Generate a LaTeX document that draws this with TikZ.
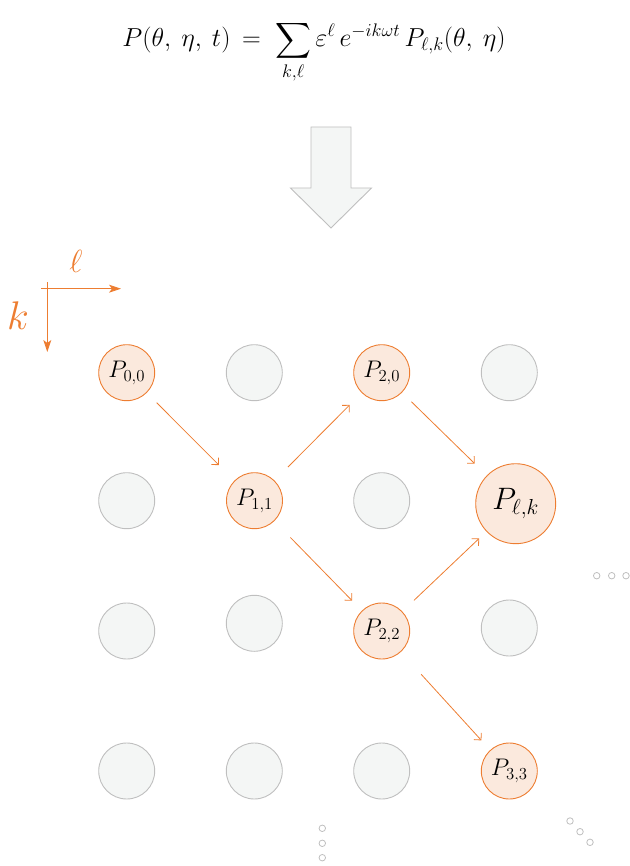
\RequirePackage{fix-cm}
\documentclass[tikz,border=0pt]{standalone}
\usepackage{exscale}
\usetikzlibrary{arrows.meta}
\definecolor{orng}{HTML}{ED7D31}
\definecolor{orngfill}{HTML}{FBE9DD}
\definecolor{gfill}{HTML}{F4F6F5}
\definecolor{gline}{HTML}{BFBFBF}
\begin{document}
\begin{tikzpicture}[x=1pt,y=-1pt,
  onode/.style={circle,draw=orng,fill=orngfill,line width=0.9pt,minimum size=56pt,inner sep=0pt,font=\fontsize{24}{26}\selectfont},
  gnode/.style={circle,draw=gline,fill=gfill,line width=0.9pt,minimum size=56pt,inner sep=0pt},
  dotnode/.style={circle,draw=gline,line width=0.8pt,minimum size=6.5pt,inner sep=0pt},
  conn/.style={draw=orng,line width=0.8pt,-{Straight Barb[length=5pt,width=10pt]}},
  axis/.style={draw=orng,line width=0.9pt,-{Stealth[length=12pt,width=8pt,inset=3pt]}}]
\useasboundingbox (0,0) rectangle (629,866);
% equation
\node[anchor=base,inner sep=0pt] (eq) at (314,47) {\fontsize{26}{29}\selectfont $\displaystyle P(\theta,\:\eta,\:t)\,=\;\sum_{k,\ell}\varepsilon^{\ell}\,e^{-ik\omega t}\,P_{\ell,k}(\theta,\:\eta)$};
% big arrow
\draw[draw=gline,fill=gfill,line width=0.9pt,line join=miter] (311,127) -- (351,127) -- (351,188) -- (371.5,188) -- (331,228) -- (290.5,188) -- (311,188) -- cycle;
% axes
\coordinate (ax0) at (41,288.7);
\coordinate (ax1) at (121,288.7);
\coordinate (ay0) at (47.3,282);
\coordinate (ay1) at (47.3,352);
\draw[axis] (ax0) -- (ax1);
\draw[axis] (ay0) -- (ay1);
\node[text=orng,font=\fontsize{32}{34}\selectfont] (lell) at (76,261) {$\ell$};
\node[text=orng,font=\fontsize{40}{42}\selectfont] (lk) at (18,316) {$k$};
% grid nodes
\node[onode] (p00) at (126.7,372.7) {$P_{0,0}$};
\node[gnode] (g10) at (254.3,372.7) {};
\node[onode] (p20) at (381.7,372.7) {$P_{2,0}$};
\node[gnode] (g30) at (509.3,372.7) {};
\node[gnode] (g01) at (126.7,500.7) {};
\node[onode] (p11) at (254.5,500.7) {$P_{1,1}$};
\node[gnode] (g21) at (381.7,500.7) {};
\node[onode,minimum size=80pt,font=\fontsize{31}{34}\selectfont] (plk) at (515.7,503.7) {$P_{\ell,k}$};
\node[gnode] (g02) at (126.7,631) {};
\node[gnode] (g12) at (254.3,623.3) {};
\node[onode] (p22) at (381.7,631) {$P_{2,2}$};
\node[gnode] (g32) at (509.3,628) {};
\node[gnode] (g03) at (126.7,771) {};
\node[gnode] (g13) at (254.3,771) {};
\node[gnode] (g23) at (381.7,771) {};
\node[onode] (p33) at (509.3,771) {$P_{3,3}$};
% connectors
\draw[conn,shorten <=14pt,shorten >=22pt] (p00) -- (p11);
\draw[conn,shorten <=19pt,shorten >=17pt] (p11) -- (p20);
\draw[conn,shorten <=13pt,shorten >=17pt] (p20) -- (plk);
\draw[conn,shorten <=23pt,shorten >=14pt] (p11) -- (p22);
\draw[conn,shorten <=16pt,shorten >=10pt] (p22) -- (plk);
\draw[conn,shorten <=30pt,shorten >=13pt] (p22) -- (p33);
% dots
\node[dotnode] (d1) at (596.7,575.7) {};
\node[dotnode] (d2) at (611.7,575.7) {};
\node[dotnode] (d3) at (626,575.7) {};
\node[dotnode] (d4) at (322.3,828.3) {};
\node[dotnode] (d5) at (322.3,843.3) {};
\node[dotnode] (d6) at (322.3,857.7) {};
\node[dotnode] (d7) at (570,821) {};
\node[dotnode] (d8) at (580,831.7) {};
\node[dotnode] (d9) at (590,842.3) {};
\end{tikzpicture}
\end{document}
